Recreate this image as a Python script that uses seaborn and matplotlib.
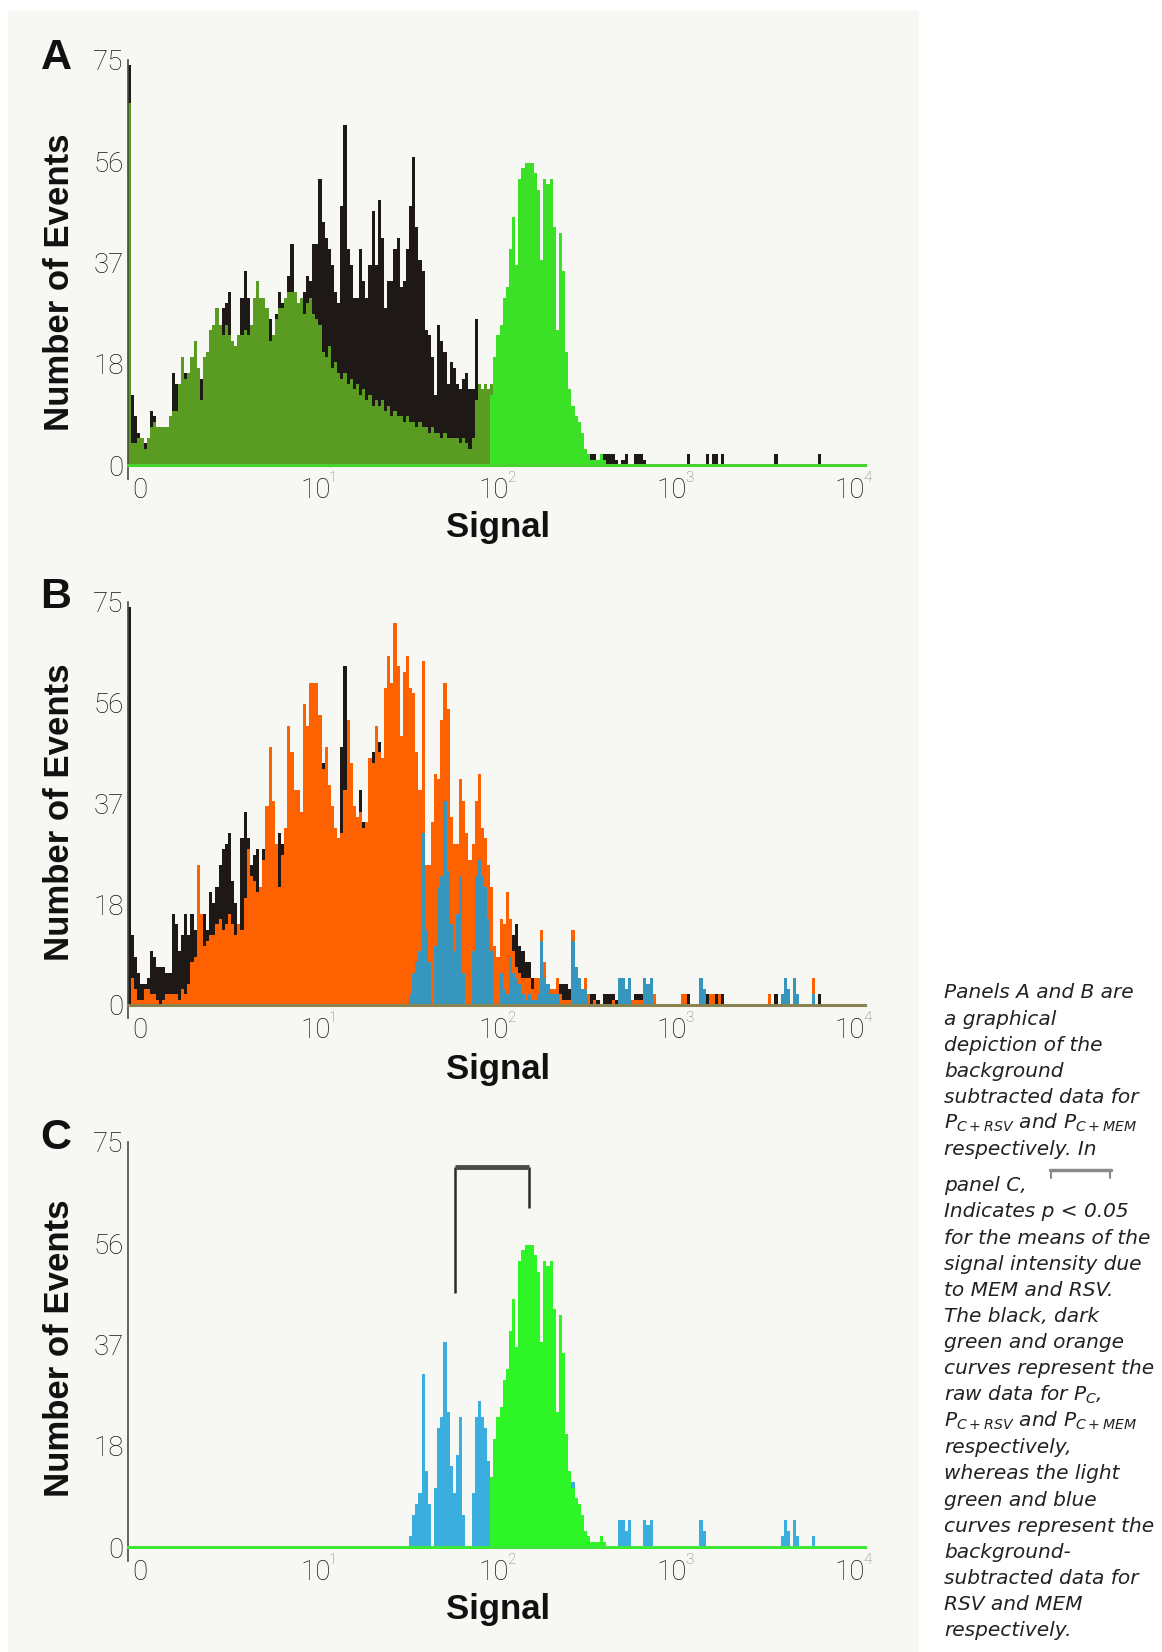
import numpy as np
import pandas as pd
import matplotlib
matplotlib.use("Agg")
import matplotlib.pyplot as plt
import seaborn as sns
from matplotlib.patches import Rectangle
from matplotlib.lines import Line2D

sns.set_style("white")
plt.rcParams["font.family"] = ["DejaVu Sans"]

# ---------------- data ----------------
N_BINS = 236                     # channels across the log axis
LOG_MIN, LOG_MAX = -0.09, 4.05   # log10(signal) range of the channels

y_ticks = [0, 18.75, 37.5, 56.25, 75]
y_tick_labels = ["0", "18", "37", "56", "75"]
x_decades = [0, 1, 2, 3, 4]
x_tick_base = ["0", "10", "10", "10", "10"]
x_tick_sup = ["", "1", "2", "3", "4"]

# P_C raw (black), channels 0..221
black_counts = [74,
    13, 9, 6, 4, 4, 5, 10, 9, 7, 7, 7, 6, 6,
    17, 15, 10, 13, 17, 13, 17, 14, 11, 16, 17, 14,
    21, 19, 22, 26, 29, 30, 32, 23, 19, 15, 31, 36,
    31, 26, 28, 29, 20, 29, 27, 27, 22, 28, 32, 30,
    27, 35, 41, 31, 30, 29, 32, 35, 34, 41, 41, 53,
    45, 42, 40, 37, 32, 30, 48, 63, 40, 37, 31, 31,
    40, 34, 31, 37, 47, 37, 49, 42, 29, 34, 34, 40,
    42, 33, 34, 40, 48, 57, 44, 38, 36, 25, 24, 20,
    13, 26, 23, 21, 15, 19, 18, 15, 14, 16, 17, 14,
    14, 27, 15, 10, 9, 8, 9, 8, 9, 10, 11, 10,
    12, 13, 15, 11, 10, 8, 8, 5, 3, 5, 13, 6,
    2, 1, 0, 0, 4, 4, 4, 3, 0, 0, 0, 0, 0, 0,
    2, 2, 1, 0, 2, 2, 2, 2, 1, 0, 1, 2, 0,
    0, 2, 2, 2, 1, 0, 0, 0, 0, 0, 0, 0, 0, 0, 0, 0, 0, 0,
    2, 0, 0, 0, 0, 0, 2, 0, 2, 2, 0, 2, 0,
    0, 0, 0, 0, 0, 0, 0, 0, 0, 0, 0, 0, 0, 0, 0,
    2,
    0, 0, 0, 0, 0, 0, 0, 0, 0, 0, 0, 0, 0,
    2]

# P_C+RSV raw (dark green), channels 0..117
dkgreen_counts = [67,
    4, 4, 5, 5, 3, 5, 7, 8, 7, 7, 7, 7, 9,
    10, 10, 15, 20, 16, 17, 20, 23, 18, 12, 20, 21,
    25, 26, 29, 26, 24, 26, 24, 23, 22, 24, 24, 25,
    24, 26, 31, 34, 31, 31, 29, 23, 24, 27, 29, 29,
    31, 32, 32, 32, 30, 31, 28, 30, 31, 28, 27, 26,
    21, 20, 22, 18, 19, 17, 16, 17, 15, 16, 14, 15,
    13, 14, 12, 13, 11, 12, 11, 12, 10, 11, 9, 10,
    9, 9, 8, 9, 8, 8, 7, 8, 7, 7, 6, 7,
    6, 6, 5, 6, 5, 5, 5, 5, 4, 5, 4, 3,
    5, 12, 15, 14, 15, 14, 15, 18]

# RSV background-subtracted (light green), channels 116..152
ltgreen_start = 116
ltgreen_counts = [13, 20, 24, 26, 31, 33, 40, 46, 37, 53, 55, 56, 56, 56, 54, 51,
                  38, 53, 52, 53, 44, 25, 43, 36, 21, 14, 11, 9, 8, 6, 3, 2,
                  1, 1, 1, 2, 1]

# P_C+MEM raw (orange), channels 0..219
orange_counts = [0,
    5, 3, 1, 1, 3, 3, 2, 2, 1, 0, 1, 2, 2,
    2, 2, 1, 3, 2, 4, 8, 9, 26, 17, 11, 12,
    13, 13, 15, 16, 14, 15, 17, 15, 13, 15, 14, 20,
    29, 24, 23, 21, 22, 27, 37, 48, 38, 30, 22, 28,
    33, 52, 47, 40, 40, 36, 56, 52, 60, 60, 60, 54,
    44, 48, 41, 37, 33, 31, 32, 40, 53, 45, 37, 35,
    36, 33, 34, 46, 45, 52, 47, 46, 59, 65, 60, 71,
    63, 50, 62, 65, 59, 58, 47, 40, 64, 26, 26, 34,
    43, 42, 53, 60, 55, 35, 30, 30, 42, 38, 32, 27,
    30, 38, 43, 33, 31, 26, 22, 11, 9, 16, 15, 21,
    16, 10, 7, 6, 5, 5, 5, 3, 5, 5, 14, 8,
    4, 3, 3, 5, 2, 1, 1, 1, 14, 7, 3, 2, 5, 2,
    0, 1, 0, 0, 0, 0, 0, 1, 0,
    5, 5, 2, 5, 1, 1, 1, 1, 5, 3, 5, 2,
    0, 0, 0, 0, 0, 0, 0, 0, 2, 2, 0, 0, 0, 0,
    5, 2, 0, 2, 2, 0, 2,
    0, 0, 0, 0, 0, 0, 0, 0, 0, 0, 0, 0, 0, 0, 0,
    2, 0, 0, 0, 0, 3, 0, 0, 3, 0, 0, 0, 0, 0, 5]

# MEM background-subtracted (blue), channels 90..219
blue_start = 90
blue_counts = [2, 6, 8, 10, 32, 14, 8, 0, 11, 22,
               24, 38, 25, 15, 10, 17, 24, 6, 0, 0,
               10, 24, 27, 24, 22, 16, 10, 0, 0, 6,
               3, 2, 9, 6, 5, 4, 2, 1, 2, 1,
               1, 2, 12, 5, 4, 2, 2, 2, 0, 0,
               0, 0, 12, 7, 5, 3, 3, 0, 0, 0,
               0, 0, 0, 0, 0, 0, 0, 5, 5, 3,
               5, 0, 0, 0, 0, 5, 4, 5, 0, 0,
               0, 0, 0, 0, 0, 0, 0, 0, 0, 0,
               0, 0, 0, 5, 3, 0, 0, 0, 0, 0,
               0, 0, 0, 0, 0, 0, 0, 0, 0, 0,
               0, 0, 0, 0, 0, 0, 0, 0, 0, 2,
               5, 3, 0, 5, 2, 0, 0, 0, 0, 2]

mean_signal = [56, 146]              # MEM mean, RSV mean (bracket ends)
bracket_levels = [47, 70.4, 62.8]    # left leg bottom, bar, right leg bottom

caption_lines = [
    "Panels A and B are", "a graphical", "depiction of the", "background",
    "subtracted data for", r"P$_{C+RSV}$ and P$_{C+MEM}$", "respectively. In",
    "panel C,", "Indicates p < 0.05", "for the means of the",
    "signal intensity due", "to MEM and RSV.", "The black, dark",
    "green and orange", "curves represent the", r"raw data for P$_{C}$,",
    r"P$_{C+RSV}$ and P$_{C+MEM}$", "respectively,", "whereas the light",
    "green and blue", "curves represent the", "background-",
    "subtracted data for", "RSV and MEM", "respectively.",
]

# ---------------- figure ----------------
W, H = 1162, 1652
fig = plt.figure(figsize=(W / 100, H / 100), dpi=100)
fig.patch.set_facecolor("white")
fig.add_artist(Rectangle((8 / W, 0), 911 / W, 1 - 11 / H, transform=fig.transFigure,
                         facecolor="#f7f7f3", edgecolor="none", zorder=-5))

edges = np.linspace(LOG_MIN, LOG_MAX, N_BINS + 1)
centers = 0.5 * (edges[:-1] + edges[1:])
edge_list = [float(e) for e in edges]


def series(counts, start=0):
    arr = np.zeros(N_BINS)
    arr[start:start + len(counts)] = counts
    return arr


def draw_hist(ax, counts, color):
    df = pd.DataFrame({"logsignal": centers, "events": counts})
    sns.histplot(data=df, x="logsignal", weights="events", bins=edge_list, element="step",
                 fill=True, color=color, alpha=1.0, linewidth=0, ax=ax)


def make_axes(top, bottom):
    return fig.add_axes([128 / W, 1 - bottom / H, 737 / W, (bottom - top) / H])


TICK_FONT = dict(fontfamily=["Roboto", "DejaVu Sans"], fontweight="light", color="#151515")


def style(ax, base_color, label_y, letter, letter_y, signal_y):
    ax.set_xlim(LOG_MIN, LOG_MAX)
    ax.set_ylim(0, 75)
    ax.patch.set_alpha(0)
    ax.spines[["top", "right"]].set_visible(False)
    ax.spines["left"].set_color("#4a4a44")
    ax.spines["left"].set_linewidth(1.2)
    ax.spines["left"].set_bounds(-2.5, 75)
    ax.spines["bottom"].set_color(base_color)
    ax.spines["bottom"].set_linewidth(2.2)
    ax.set_yticks(y_ticks)
    ax.set_yticklabels(y_tick_labels, fontsize=20, **TICK_FONT)
    ax.tick_params(axis="y", length=0, pad=3)
    ax.set_xticks([])
    ax.set_xlabel("")
    ax.set_ylabel("")
    for k, base, sup in zip(x_decades, x_tick_base, x_tick_sup):
        ax.annotate(base, xy=(k, 0), xycoords=("data", "axes fraction"),
                    xytext=(-6 if sup else -4, -26), textcoords="offset pixels",
                    ha="center", va="center", fontsize=20, annotation_clip=False, **TICK_FONT)
        if sup:
            ax.annotate(sup, xy=(k, 0), xycoords=("data", "axes fraction"),
                        xytext=(11, -13), textcoords="offset pixels",
                        ha="center", va="center", fontsize=11, annotation_clip=False,
                        fontfamily=["Roboto", "DejaVu Sans"], fontweight="light", color="#7a7a7a")
    fig.text(60 / W, 1 - label_y / H, "Number of Events", rotation=90, ha="center", va="center",
             fontsize=25, fontweight="bold", fontfamily=["Liberation Sans", "DejaVu Sans"], color="#111111")
    fig.text(498 / W, 1 - signal_y / H, "Signal", ha="center", va="center",
             fontsize=25, fontweight="bold", fontfamily=["Liberation Sans", "DejaVu Sans"], color="#111111")
    fig.text(56 / W, 1 - letter_y / H, letter, ha="center", va="center",
             fontsize=31, fontweight="bold", fontfamily=["Liberation Sans", "DejaVu Sans"], color="#111111")


black = series(black_counts)
dkgreen = series(dkgreen_counts)
ltgreen = series(ltgreen_counts, ltgreen_start)
orange = series(orange_counts)
blue = series(blue_counts, blue_start)

# Panel A
axA = make_axes(60, 465)
draw_hist(axA, black, "#1e1916")
draw_hist(axA, dkgreen, "#5a9c22")
draw_hist(axA, ltgreen, "#3ae126")
style(axA, "#45d22a", 282, "A", 58, 527)

# Panel B
axB = make_axes(602, 1005)
draw_hist(axB, black, "#1e1916")
draw_hist(axB, orange, "#fd6100")
draw_hist(axB, blue, "#3696bd")
style(axB, "#8c8450", 812, "B", 597, 1069)

# Panel C
axC = make_axes(1142, 1547)
draw_hist(axC, blue, "#3aaede")
draw_hist(axC, ltgreen, "#2ef526")
style(axC, "#3ee63a", 1348, "C", 1138, 1610)

mL, mR = np.log10(mean_signal)
axC.plot([mL, mL], [bracket_levels[0], bracket_levels[1]], color="#2a2a2a", lw=1.8, solid_capstyle="butt")
axC.plot([mR, mR], [bracket_levels[2], bracket_levels[1]], color="#2a2a2a", lw=1.8, solid_capstyle="butt")
axC.plot([mL, mR], [bracket_levels[1], bracket_levels[1]], color="#4a4a4a", lw=3.5, solid_capstyle="butt")

# ---------------- caption ----------------
for k, line in enumerate(caption_lines):
    yc = 991.4 + 26.15 * k if k < 7 else 1184.1 + 26.2 * (k - 7)
    fig.text(944 / W, 1 - (yc + 7) / H, line, ha="left", va="baseline", fontsize=14.5,
             fontstyle="italic", color="#222222", fontfamily=["DejaVu Sans"])

# small bracket glyph in the caption
for xs, ys, lw in [([1050, 1111], [1170, 1170], 2.5), ([1051, 1051], [1170, 1178], 1.5),
                   ([1110, 1110], [1170, 1178], 1.5)]:
    fig.add_artist(Line2D([x / W for x in xs], [1 - y / H for y in ys], color="#8a8a8a",
                          lw=lw, transform=fig.transFigure))

fig.savefig("out.png", dpi=100, facecolor=fig.get_facecolor())
